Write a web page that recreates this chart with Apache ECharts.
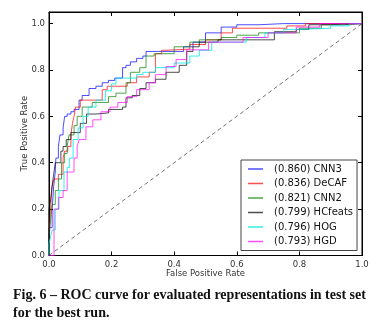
<!DOCTYPE html>
<html>
<head>
<meta charset="utf-8">
<script src="https://cdn.jsdelivr.net/npm/echarts@6/dist/echarts.min.js"></script>
<style>
  html, body { margin: 0; padding: 0; background: #fff; }
  #chart { width: 390px; height: 332px; }
</style>
</head>
<body>
<div id="chart"></div>
<script>
// ROC curves (fpr, tpr)
const labels = ['(0.860) CNN3', '(0.836) DeCAF', '(0.821) CNN2', '(0.799) HCfeats', '(0.796) HOG', '(0.793) HGD'];
const colors = ['rgba(0,0,255,0.7)', 'rgba(255,0,0,0.7)', 'rgba(0,128,0,0.7)', 'rgba(0,0,0,0.7)', 'rgba(0,230,230,0.8)', 'rgba(255,0,255,0.7)'];
const tickLabels = ['0.0', '0.2', '0.4', '0.6', '0.8', '1.0'];

const fprCNN3 = [0, 0, 0.01, 0.015, 0.02, 0.022, 0.03, 0.035, 0.045, 0.05, 0.058, 0.07, 0.08, 0.096, 0.106, 0.128, 0.15, 0.17, 0.19, 0.21, 0.235, 0.246, 0.26, 0.28, 0.3, 0.31, 0.342, 0.43, 0.46, 0.5, 0.55, 0.6, 0.67, 0.75, 1];
const tprCNN3 = [0, 0.05, 0.12, 0.2, 0.3, 0.36, 0.42, 0.47, 0.52, 0.55, 0.6, 0.61, 0.62, 0.63, 0.67, 0.69, 0.72, 0.73, 0.745, 0.755, 0.765, 0.81, 0.82, 0.835, 0.85, 0.86, 0.88, 0.88, 0.9, 0.92, 0.96, 0.985, 0.995, 1, 1];

const fprDeCAF = [0, 0.005, 0.01, 0.016, 0.03, 0.045, 0.05, 0.06, 0.07, 0.075, 0.08, 0.085, 0.1, 0.112, 0.17, 0.186, 0.214, 0.25, 0.28, 0.32, 0.34, 0.36, 0.374, 0.45, 0.5, 0.55, 0.586, 0.76, 0.82, 0.88, 1];
const tprDeCAF = [0, 0.1, 0.2, 0.3, 0.33, 0.35, 0.42, 0.45, 0.47, 0.52, 0.57, 0.6, 0.64, 0.67, 0.67, 0.715, 0.73, 0.73, 0.745, 0.77, 0.79, 0.87, 0.885, 0.89, 0.91, 0.93, 0.96, 0.98, 0.99, 1, 1];

const fprCNN2 = [0, 0.005, 0.01, 0.02, 0.03, 0.04, 0.05, 0.058, 0.064, 0.08, 0.09, 0.106, 0.138, 0.19, 0.214, 0.246, 0.26, 0.29, 0.31, 0.336, 0.4, 0.45, 0.48, 0.55, 0.6, 0.67, 0.8, 0.87, 0.9, 0.95, 1];
const tprCNN2 = [0, 0.08, 0.15, 0.22, 0.28, 0.33, 0.4, 0.44, 0.47, 0.52, 0.56, 0.6, 0.64, 0.66, 0.685, 0.7, 0.745, 0.79, 0.81, 0.86, 0.87, 0.9, 0.92, 0.93, 0.94, 0.95, 0.96, 0.98, 0.995, 1, 1];

const fprHCfeats = [0, 0, 0.005, 0.01, 0.015, 0.02, 0.038, 0.045, 0.055, 0.07, 0.1, 0.12, 0.15, 0.19, 0.235, 0.246, 0.266, 0.29, 0.31, 0.34, 0.374, 0.416, 0.44, 0.46, 0.48, 0.54, 0.68, 0.72, 0.79, 0.83, 0.94, 1];
const tprHCfeats = [0, 0.1, 0.2, 0.24, 0.3, 0.35, 0.4, 0.45, 0.47, 0.5, 0.53, 0.57, 0.61, 0.615, 0.63, 0.64, 0.68, 0.69, 0.72, 0.745, 0.76, 0.79, 0.82, 0.88, 0.9, 0.92, 0.93, 0.93, 0.965, 0.975, 0.995, 1];

const fprHOG = [0, 0.005, 0.01, 0.02, 0.032, 0.048, 0.058, 0.065, 0.077, 0.093, 0.109, 0.125, 0.15, 0.18, 0.2, 0.214, 0.23, 0.28, 0.3, 0.34, 0.4, 0.45, 0.48, 0.52, 0.63, 0.69, 0.75, 0.8, 0.9, 0.96, 1];
const tprHOG = [0, 0.05, 0.08, 0.11, 0.2, 0.28, 0.36, 0.38, 0.42, 0.5, 0.55, 0.6, 0.64, 0.67, 0.71, 0.74, 0.765, 0.765, 0.78, 0.79, 0.81, 0.83, 0.86, 0.885, 0.92, 0.94, 0.96, 0.975, 0.98, 0.99, 1];

const fprHGD = [0, 0.016, 0.016, 0.03, 0.045, 0.058, 0.08, 0.09, 0.096, 0.118, 0.14, 0.166, 0.195, 0.22, 0.25, 0.28, 0.32, 0.34, 0.374, 0.406, 0.44, 0.51, 0.62, 0.7, 0.79, 0.865, 0.9, 1];
const tprHGD = [0, 0, 0.13, 0.2, 0.25, 0.28, 0.36, 0.42, 0.47, 0.5, 0.555, 0.585, 0.62, 0.64, 0.66, 0.685, 0.715, 0.745, 0.78, 0.815, 0.845, 0.887, 0.92, 0.94, 0.96, 0.985, 1, 1];

const chanceLine = [[0, 0], [1, 1]];

const fprList = [fprCNN3, fprDeCAF, fprCNN2, fprHCfeats, fprHOG, fprHGD];
const tprList = [tprCNN3, tprDeCAF, tprCNN2, tprHCfeats, tprHOG, tprHGD];

const font = 'DejaVu Sans';
const chart = echarts.init(document.getElementById('chart'));

function zip(xs, ys) {
  return xs.map((x, i) => [x, ys[i]]);
}

let series = labels.map((name, i) => {
  return {
    name: name,
    type: 'line',
    step: 'start',
    symbol: 'none',
    data: zip(fprList[i], tprList[i]),
    lineStyle: { color: colors[i], width: 1 },
    itemStyle: { color: colors[i] },
    silent: true
  };
});
series.push({
  type: 'line',
  symbol: 'none',
  data: chanceLine,
  lineStyle: { color: 'rgba(0,0,0,0.55)', width: 1, type: [4, 3] },
  silent: true
});

const axisCommon = {
  type: 'value',
  min: 0,
  interval: 0.2,
  splitLine: { show: false },
  axisLine: { show: true, onZero: false, lineStyle: { color: '#000', width: 1 } },
  axisTick: { show: true, inside: true, length: 4, lineStyle: { color: '#000' } }
};
const labelStyle = {
  fontFamily: font,
  fontSize: 8.5,
  color: '#333',
  formatter: (v) => {
    const k = Math.round(v * 5);
    return Math.abs(v * 5 - k) < 1e-6 && k <= 5 ? tickLabels[k] : '';
  }
};

const option = {
  animation: false,
  backgroundColor: '#fff',
  grid: { left: 49, right: 28, top: 12, bottom: 76.5, show: true, borderColor: '#000', borderWidth: 1 },
  legend: {
    orient: 'vertical',
    left: 241,
    top: 160,
    padding: [3, 4, 3, 7],
    itemGap: 2.5,
    itemWidth: 15,
    itemHeight: 1.5,
    icon: 'rect',
    backgroundColor: '#fff',
    borderColor: '#444',
    borderWidth: 1,
    borderRadius: 0,
    data: labels,
    textStyle: { fontFamily: font, fontSize: 10, color: '#111', lineHeight: 12, padding: [0, 0, 0, 6] }
  },
  xAxis: [
    Object.assign({}, axisCommon, {
      max: 1,
      position: 'bottom',
      name: 'False Positive Rate',
      nameLocation: 'middle',
      nameGap: 14,
      nameMoveOverlap: false,
      nameTextStyle: { fontFamily: font, fontSize: 8.5, color: '#333' },
      axisLabel: Object.assign({ margin: 5 }, labelStyle)
    }),
    Object.assign({}, axisCommon, { max: 1, position: 'top', axisLabel: { show: false } })
  ],
  yAxis: [
    Object.assign({}, axisCommon, {
      max: 1.05,
      position: 'left',
      name: 'True Positive Rate',
      nameLocation: 'middle',
      nameGap: 20,
      nameMoveOverlap: false,
      nameTextStyle: { fontFamily: font, fontSize: 8.5, color: '#333' },
      axisLabel: Object.assign({ margin: 4, showMaxLabel: false }, labelStyle)
    }),
    Object.assign({}, axisCommon, { max: 1.05, position: 'right', axisLabel: { show: false } })
  ],
  graphic: [
    {
      type: 'text',
      left: 13,
      top: 286,
      style: {
        text: 'Fig. 6 – ROC curve for evaluated representations in test set\nfor the best run.',
        font: 'bold 14px "Liberation Serif"',
        lineHeight: 18,
        fill: '#111'
      }
    }
  ],
  series: series
};

chart.setOption(option);
</script>
</body>
</html>
